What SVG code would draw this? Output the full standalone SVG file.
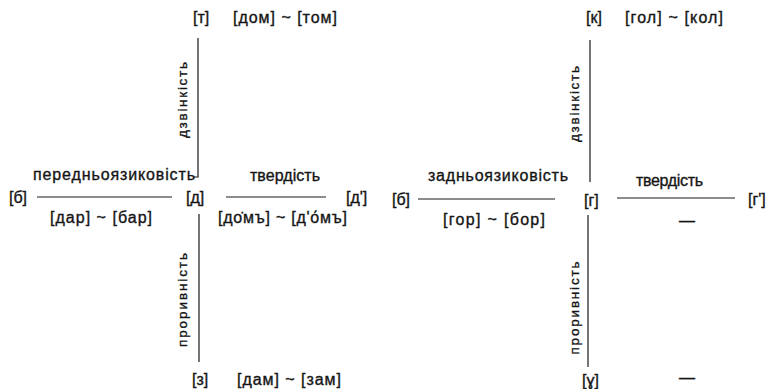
<svg xmlns="http://www.w3.org/2000/svg" width="767" height="389" viewBox="0 0 767 389">
<style>
text{font-family:"Liberation Sans",Arial,sans-serif;font-size:16px;fill:#151515;stroke:#151515;stroke-width:0.35px;}
.rot{font-size:13.5px;}
.ln{stroke:#1a1a1a;stroke-width:1.2;fill:none;}
</style>
<rect width="767" height="389" fill="#fff"/>
<g id="connectors">
<path class="ln" d="M198,38 V177 H194"/>
<path class="ln" d="M199,214 V362"/>
<path class="ln" d="M37,197 H172"/>
<path class="ln" d="M226,197 H326"/>
<path class="ln" d="M590,40 V182"/>
<path class="ln" d="M588,215 V367"/>
<path class="ln" d="M418,199 H555"/>
<path class="ln" d="M617,198 H735"/>
</g>
<g id="left">
<g id="n-t"><text x="193" y="23">[т]</text><text x="233" y="23" textLength="104" lengthAdjust="spacing">[дом] ~ [том]</text></g>
<g id="n-lab-dz1"><text class="rot" transform="translate(187,100) rotate(-90)" text-anchor="middle" textLength="76" lengthAdjust="spacing">дзвінкість</text></g>
<g id="n-lab-pered"><text x="33" y="180" textLength="162" lengthAdjust="spacing">передньоязиковість</text></g>
<g id="n-lab-tv1"><text x="250" y="181" textLength="70" lengthAdjust="spacing">твердість</text></g>
<g id="n-b1"><text x="9" y="203">[б]</text></g>
<g id="n-d"><text x="186" y="203">[д]</text></g>
<g id="n-d2"><text x="346" y="203">[д']</text></g>
<g id="n-ex1"><text x="50" y="223" textLength="102" lengthAdjust="spacing">[дар] ~ [бар]</text></g>
<g id="n-ex2"><text x="218" y="223" textLength="129" lengthAdjust="spacing">[до̇мъ] ~ [д'о́мъ]</text></g>
<g id="n-lab-pr1"><text class="rot" transform="translate(187,300) rotate(-90)" text-anchor="middle" textLength="94" lengthAdjust="spacing">проривність</text></g>
<g id="n-z"><text x="192" y="385">[з]</text><text x="237" y="385" textLength="104" lengthAdjust="spacing">[дам] ~ [зам]</text></g>
</g>
<g id="right">
<g id="n-k"><text x="586" y="23">[к]</text><text x="625" y="23" textLength="98" lengthAdjust="spacing">[гол] ~ [кол]</text></g>
<g id="n-lab-dz2"><text class="rot" transform="translate(579,104) rotate(-90)" text-anchor="middle" textLength="76" lengthAdjust="spacing">дзвінкість</text></g>
<g id="n-lab-zadn"><text x="428" y="181" textLength="140" lengthAdjust="spacing">задньоязиковість</text></g>
<g id="n-lab-tv2"><text x="636" y="186" textLength="67" lengthAdjust="spacing">твердість</text></g>
<g id="n-b2"><text x="392" y="205">[б]</text></g>
<g id="n-g"><text x="584" y="206">[г]</text></g>
<g id="n-g2"><text x="748" y="205">[г']</text></g>
<g id="n-ex3"><text x="443" y="225" textLength="102" lengthAdjust="spacing">[гор] ~ [бор]</text><text x="687" y="226" text-anchor="middle">—</text></g>
<g id="n-lab-pr2"><text class="rot" transform="translate(579,308) rotate(-90)" text-anchor="middle" textLength="93" lengthAdjust="spacing">проривність</text></g>
<g id="n-gamma"><text x="582" y="386">[ɣ]</text><text x="687" y="383" text-anchor="middle">—</text></g>
</g>
</svg>
